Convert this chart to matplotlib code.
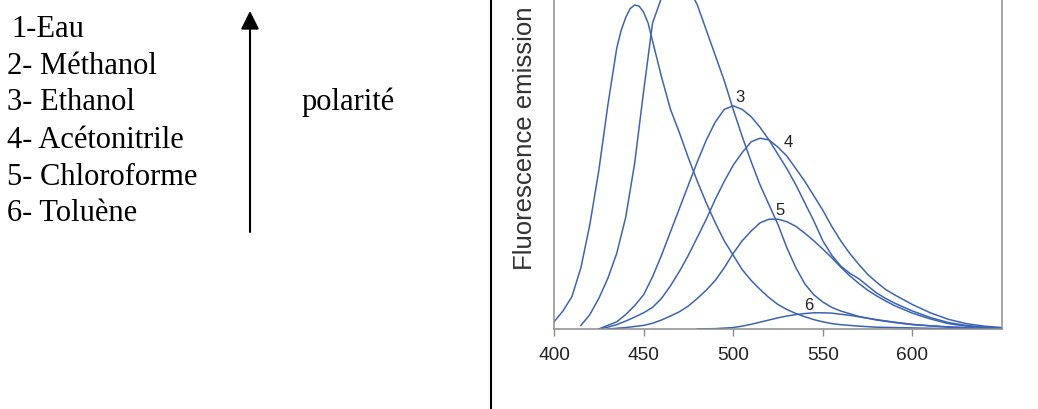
"""Spectres d'émission de fluorescence dans différents solvants."""
import matplotlib

matplotlib.use("Agg")
import matplotlib.pyplot as plt  # noqa: E402
from matplotlib.patches import FancyArrowPatch  # noqa: E402
from matplotlib.lines import Line2D  # noqa: E402

# --- données (intensité en unités arbitraires) ---
solvants = ["1-Eau", "2- Méthanol", "3- Ethanol", "4- Acétonitrile",
            "5- Chloroforme", "6- Toluène"]
x_ticks = [400, 450, 500, 550, 600]

wl_1 = [400, 405, 410, 415, 420, 425, 430, 435, 437.5, 440, 442.5, 445,
        447.5, 450, 452.5, 455, 460, 465, 470, 475, 480, 485, 490, 495, 500,
        505, 510, 515, 520, 525, 530, 535, 540, 545, 550, 555, 560, 570, 580,
        600, 620, 650]
em_1 = [0.02, 0.05, 0.09, 0.17, 0.29, 0.44, 0.62, 0.78, 0.83, 0.865, 0.89,
        0.90, 0.897, 0.88, 0.85, 0.80, 0.70, 0.61, 0.545, 0.475, 0.41, 0.35,
        0.295, 0.245, 0.205, 0.165, 0.135, 0.11, 0.087, 0.068, 0.054, 0.043,
        0.034, 0.026, 0.02, 0.015, 0.012, 0.008, 0.005, 0.003, 0.001, 0.0]

wl_2 = [415, 420, 425, 430, 435, 440, 445, 450, 455, 460, 465, 470, 475, 480,
        485, 490, 495, 500, 505, 510, 515, 520, 525, 530, 535, 540, 545, 550,
        555, 560, 570, 580, 590, 600, 620, 650]
em_2 = [0.01, 0.04, 0.085, 0.14, 0.21, 0.31, 0.46, 0.66, 0.85, 0.92, 0.96,
        0.97, 0.95, 0.90, 0.83, 0.76, 0.69, 0.61, 0.535, 0.465, 0.40, 0.345,
        0.29, 0.225, 0.17, 0.125, 0.095, 0.075, 0.06, 0.05, 0.035, 0.025,
        0.018, 0.012, 0.005, 0.0]

wl_3 = [425, 430, 435, 440, 445, 450, 455, 460, 465, 470, 475, 480, 485, 490,
        495, 500, 505, 510, 515, 520, 525, 530, 535, 540, 545, 550, 555, 560,
        565, 570, 575, 580, 585, 590, 600, 610, 620, 630, 640, 650]
em_3 = [0.0, 0.01, 0.02, 0.04, 0.065, 0.095, 0.145, 0.205, 0.27, 0.335, 0.40,
        0.465, 0.525, 0.575, 0.61, 0.62, 0.61, 0.59, 0.56, 0.525, 0.485,
        0.445, 0.40, 0.35, 0.30, 0.245, 0.205, 0.175, 0.155, 0.14, 0.12, 0.10,
        0.085, 0.072, 0.05, 0.032, 0.018, 0.01, 0.005, 0.002]

wl_4 = [425, 430, 435, 440, 445, 450, 455, 460, 465, 470, 475, 480, 485, 490,
        495, 500, 505, 510, 515, 520, 525, 530, 535, 540, 545, 550, 555, 560,
        565, 570, 575, 580, 585, 590, 600, 610, 620, 630, 640, 650]
em_4 = [0.0, 0.005, 0.012, 0.022, 0.033, 0.045, 0.06, 0.085, 0.12, 0.16,
        0.205, 0.255, 0.305, 0.36, 0.41, 0.455, 0.49, 0.52, 0.53, 0.525,
        0.505, 0.48, 0.445, 0.41, 0.37, 0.33, 0.285, 0.245, 0.21, 0.18, 0.152,
        0.13, 0.11, 0.095, 0.068, 0.045, 0.027, 0.015, 0.008, 0.004]

wl_5 = [430, 440, 450, 455, 460, 465, 470, 475, 480, 485, 490, 495, 500, 505,
        510, 515, 520, 525, 530, 535, 540, 545, 550, 555, 560, 565, 570, 575,
        580, 585, 590, 600, 610, 620, 630, 640, 650]
em_5 = [0.0, 0.004, 0.01, 0.016, 0.025, 0.036, 0.048, 0.064, 0.085, 0.108,
        0.135, 0.17, 0.21, 0.245, 0.272, 0.295, 0.305, 0.305, 0.298, 0.285,
        0.266, 0.245, 0.222, 0.198, 0.172, 0.148, 0.127, 0.108, 0.092, 0.078,
        0.065, 0.044, 0.028, 0.015, 0.008, 0.004, 0.002]

wl_6 = [480, 490, 500, 505, 510, 515, 520, 525, 530, 535, 540, 545, 550, 555,
        560, 565, 570, 575, 580, 590, 600, 610, 620, 630, 640, 650]
em_6 = [0.0, 0.001, 0.004, 0.008, 0.013, 0.019, 0.025, 0.031, 0.036, 0.04,
        0.043, 0.045, 0.045, 0.044, 0.041, 0.038, 0.034, 0.03, 0.026, 0.019,
        0.013, 0.009, 0.006, 0.004, 0.002, 0.001]

# étiquettes des courbes visibles : (texte, lambda, intensité)
curve_labels = [("1", 444.7, 0.93), ("3", 504, 0.647), ("4", 530.7, 0.522),
                ("5", 526.3, 0.333), ("6", 542, 0.069)]

W, H = 1038, 410
BLUE = "#3d64b4"
GREY = "#8c8c8c"

fig = plt.figure(figsize=(W / 100, H / 100), dpi=100)

# --- partie gauche : liste des solvants ---
serif = ["Liberation Serif", "DejaVu Serif"]
baselines = [37, 74, 110, 148, 185, 221]
for i, (name, yb) in enumerate(zip(solvants, baselines)):
    x0 = 11 if i == 0 else 7
    fig.text(x0 / W, 1 - yb / H, name, family=serif, fontsize=22,
             va="baseline", ha="left", color="black")
fig.text(302 / W, 1 - 110 / H, "polarité", family=serif, fontsize=22,
         va="baseline", ha="left", color="black")

arrow = FancyArrowPatch((250 / W, 1 - 233 / H), (250 / W, 1 - 12 / H),
                        transform=fig.transFigure,
                        arrowstyle="-|>,head_length=1.1,head_width=0.55",
                        mutation_scale=10, lw=1.5, color="black",
                        shrinkA=0, shrinkB=0)
fig.patches.append(arrow)

# trait vertical de séparation
fig.add_artist(Line2D([491 / W, 491 / W], [0, 1], transform=fig.transFigure,
                      color="black", lw=1.5))

# --- graphique ---
left, right, bottom, top = 554, 1002, 330, -30
ax = fig.add_axes([left / W, 1 - bottom / H, (right - left) / W,
                   (bottom - top) / H])
for wl, em in [(wl_1, em_1), (wl_2, em_2), (wl_3, em_3),
               (wl_4, em_4), (wl_5, em_5), (wl_6, em_6)]:
    ax.plot(wl, em, color=BLUE, lw=1.1)

sans = ["Liberation Sans", "DejaVu Sans"]
for txt, xl, yl in curve_labels:
    ax.text(xl, yl, txt, family=sans, fontsize=12, ha="center", va="center",
            color="#222222")

ax.set_xlim(400, 650)
ax.set_ylim(0, 1)
ax.set_xticks(x_ticks)
ax.set_xticklabels([str(t) for t in x_ticks], family=sans, fontsize=13.8,
                   color="#222222")
ax.set_yticks([])
ax.tick_params(axis="x", direction="out", length=5, width=1, color=GREY,
               pad=7)
for side in ["left", "right", "bottom", "top"]:
    ax.spines[side].set_color(GREY)
    ax.spines[side].set_linewidth(1.1)

fig.text(525 / W, 1 - 138.5 / H, "Fluorescence emission", family=sans,
         fontsize=18.5, rotation=90, ha="center", va="center",
         color="#333333")

fig.savefig("out.png", dpi=100)
